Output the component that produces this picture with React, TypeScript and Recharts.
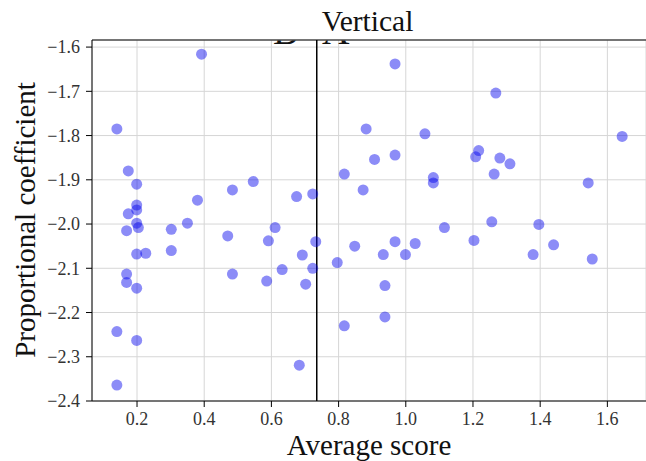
import React from "react";
import {
  ScatterChart,
  Scatter,
  XAxis,
  YAxis,
  CartesianGrid,
  ReferenceLine,
} from "recharts";

// Average score (x) and proportional coefficient (y)
const scores = [
  0.392, 0.14, 0.174, 0.199, 0.484, 0.546, 0.38, 0.675, 0.723, 0.199,
  0.199, 0.174, 0.199, 0.204, 0.169, 0.302, 0.35, 0.47, 0.611, 0.591,
  0.732, 0.199, 0.226, 0.302, 0.692, 0.723, 0.632, 0.169, 0.484, 0.169,
  0.586, 0.702, 0.199, 0.14, 0.199, 0.683, 0.14,
  0.968, 1.268, 0.882, 1.057, 1.644, 1.217, 1.208, 1.28, 1.31, 0.968,
  0.907, 0.817, 1.263, 1.082, 1.082, 0.873, 1.543,
  1.256, 1.115, 1.396, 0.848, 0.968, 1.028, 1.203, 1.44, 0.796, 0.933,
  0.999, 1.379, 1.555, 0.938, 0.938, 0.817,
];
const coefficients = [
  -1.616, -1.785, -1.88, -1.91, -1.923, -1.904, -1.946, -1.938, -1.932, -1.957,
  -1.968, -1.977, -1.998, -2.008, -2.015, -2.012, -1.998, -2.027, -2.008, -2.038,
  -2.04, -2.068, -2.066, -2.06, -2.07, -2.1, -2.103, -2.113, -2.113, -2.132,
  -2.129, -2.136, -2.145, -2.243, -2.263, -2.319, -2.364,
  -1.638, -1.704, -1.785, -1.796, -1.802, -1.834, -1.848, -1.851, -1.864, -1.844,
  -1.854, -1.887, -1.887, -1.895, -1.907, -1.923, -1.907,
  -1.995, -2.008, -2.001, -2.05, -2.04, -2.044, -2.037, -2.047, -2.087, -2.069,
  -2.069, -2.069, -2.079, -2.139, -2.21, -2.23,
];

const xTicks = [0.2, 0.4, 0.6, 0.8, 1.0, 1.2, 1.4, 1.6];
const yTicks = [-2.4, -2.3, -2.2, -2.1, -2.0, -1.9, -1.8, -1.7, -1.6];
const splitScore = 0.735;

const points = scores.map((x, i) => ({ x, y: coefficients[i] }));

const serif = "Liberation Serif, Times New Roman, Times, serif";
const fmt = (v: number) => v.toFixed(1).replace("-", "\u2212");

export default function App() {
  return (
    <div style={{ position: "absolute", left: 0, top: 0, width: 646, height: 461, background: "#fff", overflow: "hidden" }}>
      <ScatterChart width={646} height={461} margin={{ top: 40, right: 0, bottom: 0, left: 0 }} style={{ position: "absolute", left: 0, top: 0 }}>
        <CartesianGrid stroke="#d6d6d6" strokeWidth={1} fill="none" />
        <XAxis
          type="number"
          dataKey="x"
          domain={[0.066, 1.715]}
          ticks={xTicks}
          tickFormatter={fmt}
          height={60}
          allowDataOverflow
          stroke="#000"
          tickLine={{ stroke: "#000" }}
          tickSize={6}
          tickMargin={5}
          tick={{ fill: "#333", fontSize: 18, fontFamily: serif }}
        />
        <YAxis
          type="number"
          dataKey="y"
          domain={[-2.4, -1.584]}
          ticks={yTicks}
          tickFormatter={fmt}
          width={92}
          allowDataOverflow
          stroke="#000"
          tickLine={{ stroke: "#000" }}
          tickSize={6}
          tickMargin={6}
          tick={{ fill: "#333", fontSize: 18, fontFamily: serif }}
        />
        <ReferenceLine y={-1.584} stroke="#000" strokeWidth={1.2} />
        <ReferenceLine x={splitScore} stroke="#000" strokeWidth={1.5} />
        <Scatter
          data={points}
          fill="#0000ee"
          fillOpacity={0.45}
          shape={(p: any) => <circle cx={p.cx} cy={p.cy} r={5.5} fill="#0000ee" fillOpacity={0.45} />}
          isAnimationActive={false}
        />
      </ScatterChart>
      <svg style={{ position: "absolute", left: 0, top: 0, pointerEvents: "none" }} width={646} height={461}>
        <defs>
          <clipPath id="peek">
            <rect x={0} y={40.5} width={646} height={6} />
          </clipPath>
        </defs>
        {/* bottom of a clipped heading peeking out under the frame */}
        <g clipPath="url(#peek)" fontFamily={serif} fontSize={38} fill="#111">
          <text x={273} y={44}>B</text>
          <text x={322} y={44}>A</text>
        </g>
        <text x={367.5} y={31} textAnchor="middle" fontFamily={serif} fontSize={29.5} fill="#111">
          Vertical
        </text>
        <text x={369} y={455} textAnchor="middle" fontFamily={serif} fontSize={29} fill="#111">
          Average score
        </text>
        <text x={35} y={220} textAnchor="middle" transform="rotate(-90, 35, 220)" fontFamily={serif} fontSize={29} fill="#111">
          Proportional coefficient
        </text>
      </svg>
    </div>
  );
}
